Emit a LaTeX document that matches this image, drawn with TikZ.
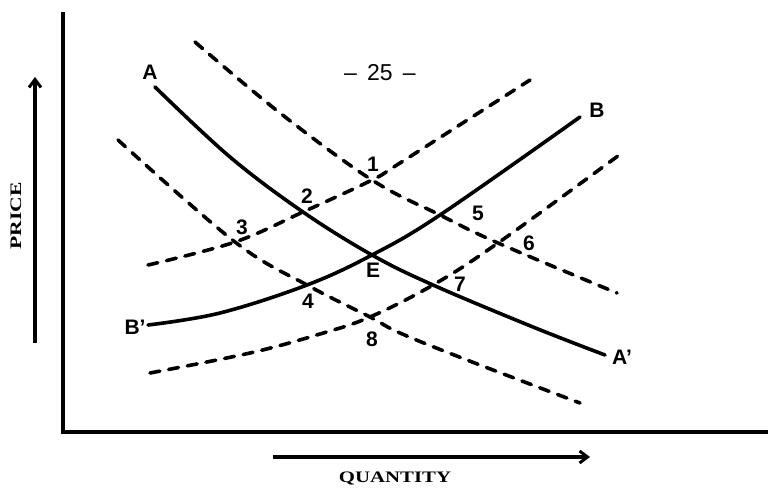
\documentclass[tikz,border=0pt]{standalone}
\usepackage{fontspec}
\usepackage{graphicx}
\usetikzlibrary{arrows.meta}
\setmainfont{Liberation Sans}
\newfontfamily\axisfont{Liberation Serif}
\begin{document}
\begin{tikzpicture}[x=1pt,y=-1pt,
  curve/.style={line width=3.6pt,line cap=round,line join=round},
  dcurve/.style={curve,dash pattern=on 10pt off 9pt},
  lab/.style={font=\fontsize{21}{21}\selectfont\bfseries,inner sep=0pt},
  axis/.style={line width=3.6pt},
  axlab/.style={font=\axisfont\fontsize{16}{16}\selectfont\bfseries,inner sep=0pt}]
\useasboundingbox (0,0) rectangle (768,492);
% axes
\coordinate (O) at (63,432);
\coordinate (Ytop) at (63,12);
\coordinate (Xend) at (768,432);
\draw[axis] (Ytop) -- (O) -- (Xend);
% price arrow
\coordinate (P0) at (35,343);
\coordinate (P1) at (35,77);
\draw[axis,-{Straight Barb[length=8pt,width=12pt,line width=3pt]}] (P0) -- (P1);
\node[axlab,rotate=90] (price) at (16,216) {\scalebox{1.35}[1]{PRICE}};
% quantity arrow
\coordinate (Q0) at (273,457);
\coordinate (Q1) at (590,457);
\draw[axis,-{Straight Barb[length=8pt,width=12pt,line width=3pt]}] (Q0) -- (Q1);
\node[axlab] (qty) at (395,478) {\scalebox{1.3}[1]{QUANTITY}};
% page number
\node[inner sep=0pt,font=\fontsize{23}{23}\selectfont] (pg) at (380,73) {--\;\,25\;\,--};
% solid demand A-A'
\draw[curve] plot[smooth,tension=0.6] coordinates {(155,87) (230,157) (303,212) (372,255) (433,285) (533,327) (605,355)};
% solid supply B'-B
\draw[curve] plot[smooth,tension=0.6] coordinates {(148,325) (220,313) (307,285) (372,255) (440,215) (580,117)};
% upper dashed demand
\draw[dcurve] plot[smooth,tension=0.6] coordinates {(195,42) (280,113) (372,180) (440,215) (498,243) (617,293)};
% upper dashed supply
\draw[dcurve] plot[smooth,tension=0.6] coordinates {(148,265) (235,242) (303,212) (372,180) (400,163) (530,80)};
% lower dashed demand
\draw[dcurve] plot[smooth,tension=0.6] coordinates {(118,140) (235,242) (307,285) (370,317) (400,333) (467,360) (580,403)};
% lower dashed supply
\draw[dcurve] plot[smooth,tension=0.6] coordinates {(150,373) (250,353) (320,334) (370,317) (433,285) (498,243) (622,153)};
% labels
\node[lab] (A) at (150,72) {A};
\node[lab] (Ap) at (622,357) {A'};
\node[lab] (B) at (597,110) {B};
\node[lab] (Bp) at (135,327) {B'};
\node[lab] (E) at (373,270) {E};
\node[lab] (n1) at (373,164) {1};
\node[lab] (n2) at (307,196) {2};
\node[lab] (n3) at (242,227) {3};
\node[lab] (n4) at (308,301) {4};
\node[lab] (n5) at (478,213) {5};
\node[lab] (n6) at (529,243) {6};
\node[lab] (n7) at (460,284) {7};
\node[lab] (n8) at (372,339) {8};
\end{tikzpicture}
\end{document}
